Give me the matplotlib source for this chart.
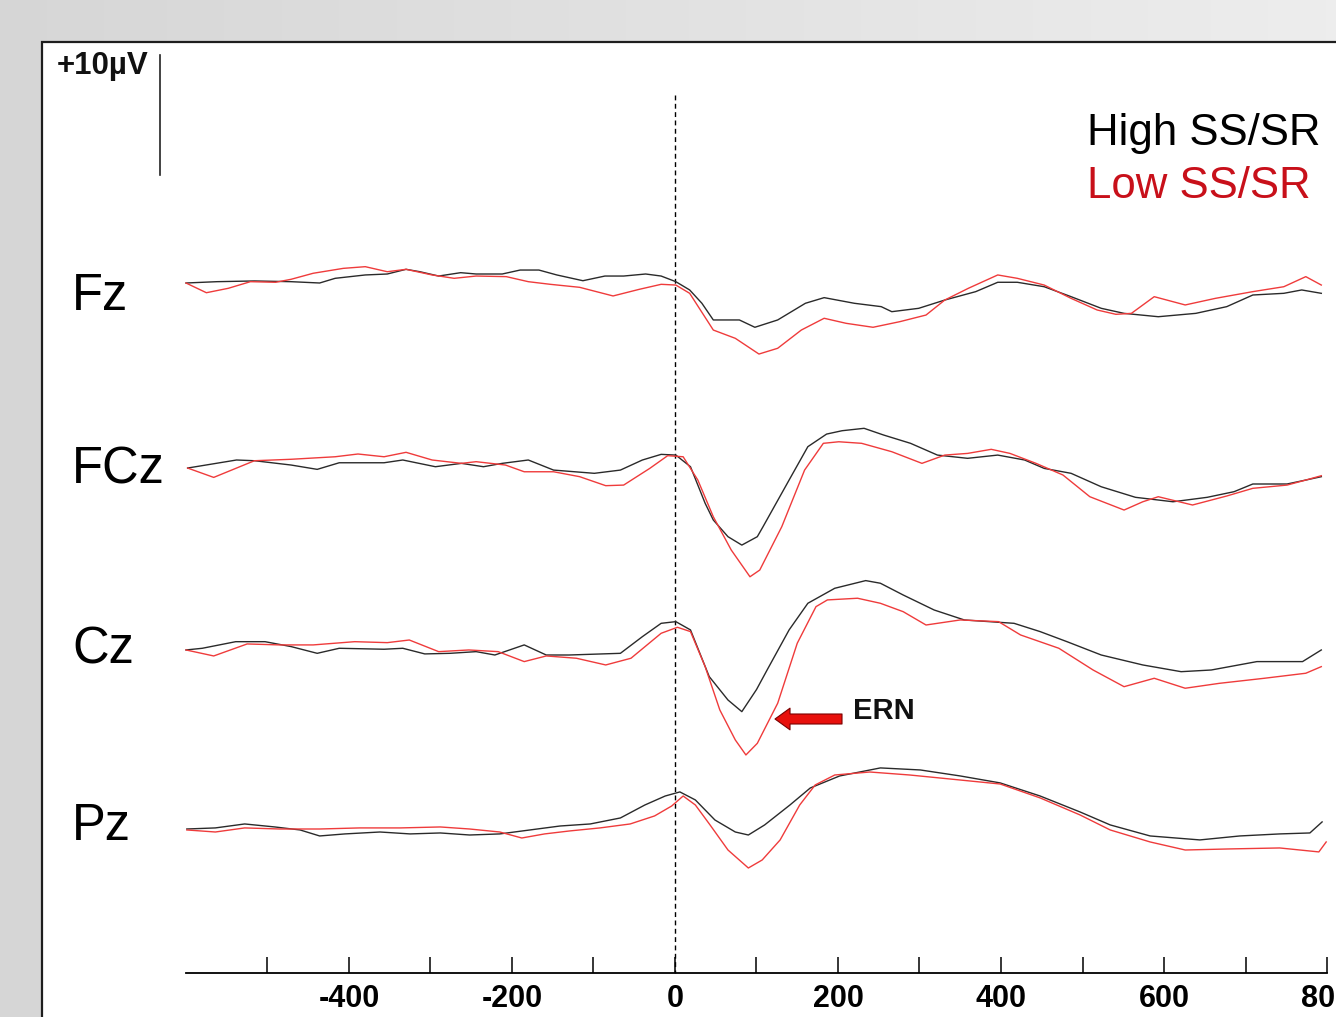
import numpy as np
import matplotlib
matplotlib.use("Agg")
import matplotlib.pyplot as plt
from matplotlib.patches import Rectangle

plt.rcParams['font.family'] = ['Liberation Sans', 'DejaVu Sans']

# ---------------- data (time in ms, amplitude in microvolts) ----------------
channels = ["Fz", "FCz", "Cz", "Pz"]
channel_offsets = [0.0, -15.42, -30.58, -45.58]   # vertical stacking (µV)

fz_high_t = [-600, -562, -516, -471, -436, -417, -380, -353, -330, -313, -290, -263, -244, -212, -190, -167, -145, -113, -86, -63, -36, -17, 1, 18, 33, 47, 79,
             98, 126, 160, 183, 220, 253, 266, 299, 331, 369, 396, 420, 453, 486, 523, 551, 593, 639, 677, 709, 747, 769, 793]
fz_high_v = [0.0, 0.11, 0.17, 0.11, 0.0, 0.39, 0.67, 0.75, 1.14, 0.94, 0.58, 0.86, 0.75, 0.75, 1.08, 1.08, 0.67, 0.19, 0.58, 0.58, 0.75, 0.58, 0.11, -0.58, -1.69, -3.08, -3.08,
             -3.69, -3.08, -1.69, -1.22, -1.69, -1.97, -2.39, -2.11, -1.42, -0.72, 0.06, 0.06, -0.31, -1.14, -2.11, -2.53, -2.81, -2.53, -1.97, -1.0, -0.86, -0.58, -0.86]

fz_low_t = [-600, -575, -548, -521, -490, -471, -444, -407, -380, -353, -330, -298, -271, -244, -207, -180, -153, -117, -76, -44, -17, 1, 18, 47, 74,
            103, 126, 155, 183, 210, 243, 276, 308, 331, 360, 396, 420, 453, 486, 518, 541, 560, 588, 626, 663, 709, 747, 774, 793]
fz_low_v = [0.0, -0.81, -0.44, 0.11, 0.06, 0.31, 0.81, 1.22, 1.36, 0.94, 1.14, 0.67, 0.39, 0.58, 0.53, 0.11, -0.11, -0.36, -1.08, -0.53, -0.11, -0.17, -0.86, -3.92, -4.61,
            -5.92, -5.44, -3.92, -2.94, -3.36, -3.69, -3.22, -2.67, -1.42, -0.44, 0.67, 0.39, -0.17, -1.28, -2.25, -2.61, -2.53, -1.14, -1.83, -1.28, -0.72, -0.31, 0.53, -0.17]

fcz_high_t = [-598, -538, -516, -471, -439, -412, -357, -334, -294, -262, -235, -212, -180, -149, -99, -67, -40, -17, 1, 19, 37, 47, 65, 82, 101,
              108, 140, 163, 186, 205, 232, 256, 289, 322, 359, 396, 429, 453, 486, 523, 565, 611, 653, 686, 709, 751, 774, 793]
fcz_high_v = [0.0, 0.67, 0.61, 0.25, -0.11, 0.44, 0.44, 0.67, 0.11, 0.39, 0.11, 0.39, 0.67, -0.17, -0.44, -0.17, 0.67, 1.14, 1.08, 0.11, -2.94, -4.33, -5.72, -6.42, -5.72,
              -4.89, -1.0, 1.78, 2.83, 3.11, 3.31, 2.75, 2.06, 1.08, 0.81, 1.08, 0.67, -0.03, -0.44, -1.56, -2.44, -2.81, -2.44, -1.97, -1.33, -1.33, -1.0, -0.72]

fcz_low_t = [-598, -566, -516, -471, -417, -389, -357, -330, -298, -262, -244, -208, -185, -149, -117, -85, -63, -31, -9, 10, 28, 47, 69, 92, 104,
             131, 159, 182, 201, 229, 266, 303, 331, 359, 388, 411, 443, 476, 509, 551, 574, 593, 635, 677, 709, 751, 774, 793]
fcz_low_v = [0.0, -0.78, 0.61, 0.73, 0.94, 1.17, 0.94, 1.31, 0.67, 0.39, 0.53, 0.25, -0.31, -0.31, -0.72, -1.47, -1.42, -0.03, 1.03, 0.94, -1.0, -4.06, -6.83, -9.06, -8.5,
             -4.89, -0.17, 2.06, 2.19, 2.06, 1.36, 0.39, 1.08, 1.22, 1.56, 1.22, 0.39, -0.58, -2.39, -3.5, -2.81, -2.39, -3.08, -2.33, -1.69, -1.42, -1.0, -0.64]

cz_high_t = [-600, -580, -539, -503, -471, -439, -412, -357, -334, -307, -276, -244, -221, -185, -158, -130, -67, -40, -17, 1, 19, 42, 65, 82, 100,
             113, 140, 163, 196, 234, 252, 280, 318, 355, 416, 448, 481, 523, 574, 621, 658, 714, 770, 793]
cz_high_v = [0.0, 0.14, 0.69, 0.69, 0.28, -0.28, 0.14, 0.06, 0.14, -0.33, -0.28, -0.14, -0.42, 0.42, -0.42, -0.42, -0.28, 1.11, 2.22, 2.36, 1.67, -2.22, -4.17, -5.14, -3.3,
             -1.67, 1.67, 3.89, 5.14, 5.78, 5.56, 4.58, 3.33, 2.5, 2.22, 1.53, 0.69, -0.42, -1.25, -1.81, -1.67, -0.97, -0.97, 0.0]

cz_low_t = [-600, -566, -525, -485, -444, -393, -353, -326, -290, -253, -217, -185, -158, -121, -85, -54, -17, 3, 19, 37, 55, 74, 87, 101,
            126, 150, 173, 187, 224, 252, 280, 308, 350, 397, 424, 471, 513, 551, 588, 626, 668, 723, 774, 793]
cz_low_v = [0.0, -0.5, 0.5, 0.42, 0.42, 0.69, 0.61, 0.83, -0.14, 0.0, -0.14, -0.97, -0.5, -0.69, -1.25, -0.69, 1.39, 1.89, 1.53, -1.39, -5.0, -7.5, -8.75, -7.78,
            -4.44, 0.56, 3.61, 4.17, 4.31, 3.89, 3.19, 2.08, 2.5, 2.36, 1.25, 0.14, -1.67, -3.06, -2.36, -3.19, -2.78, -2.36, -1.94, -1.39]

pz_high_t = [-599, -564, -528, -491, -460, -436, -405, -362, -325, -288, -252, -215, -178, -141, -104, -67, -37, -12, 6, 25, 49, 74, 90,
             110, 141, 166, 202, 252, 301, 350, 399, 448, 497, 534, 583, 644, 693, 742, 779, 794]
pz_high_v = [0.08, 0.17, 0.5, 0.25, 0.0, -0.5, -0.33, -0.17, -0.33, -0.25, -0.42, -0.33, 0.0, 0.33, 0.5, 1.0, 2.08, 2.83, 3.17, 2.5, 0.83, -0.17, -0.42,
             0.42, 2.08, 3.5, 4.5, 5.17, 5.0, 4.5, 3.92, 2.83, 1.5, 0.42, -0.5, -0.83, -0.5, -0.33, -0.25, 0.67]

pz_low_t = [-599, -564, -528, -485, -436, -387, -337, -288, -252, -215, -188, -160, -129, -92, -55, -25, -4, 10, 25, 43, 65, 90,
            107, 129, 153, 172, 196, 239, 288, 337, 399, 448, 497, 534, 583, 626, 681, 742, 790, 799]
pz_low_v = [0.0, -0.17, 0.17, 0.08, 0.08, 0.17, 0.17, 0.25, 0.08, -0.17, -0.67, -0.33, -0.08, 0.17, 0.5, 1.17, 2.0, 2.83, 2.08, 0.42, -1.67, -3.17,
            -2.5, -0.83, 2.08, 3.75, 4.58, 4.83, 4.58, 4.25, 3.83, 2.67, 1.25, 0.0, -1.0, -1.67, -1.58, -1.5, -1.83, -1.0]

high_series = [(fz_high_t, fz_high_v), (fcz_high_t, fcz_high_v), (cz_high_t, cz_high_v), (pz_high_t, pz_high_v)]
low_series = [(fz_low_t, fz_low_v), (fcz_low_t, fcz_low_v), (cz_low_t, cz_low_v), (pz_low_t, pz_low_v)]

major_ticks = [-400, -200, 0, 200, 400, 600, 800]
minor_ticks = [-500, -300, -100, 100, 300, 500, 700]
legend_labels = ["High SS/SR", "Low SS/SR"]
scale_uv = 10
scale_label = "+10µV"
ern_label = "ERN"

# ---------------- figure ----------------
W, H = 1336, 1017
fig = plt.figure(figsize=(W / 100, H / 100), dpi=100)

def fx(px):
    return px / W

def fy(py):
    return 1 - py / H

# background gradient
bg = fig.add_axes([0, 0, 1, 1])
grad = np.linspace(0.84, 0.93, 256)[None, :]
bg.imshow(np.dstack([grad, grad, grad]), aspect='auto', extent=[0, 1, 0, 1])
bg.set_xlim(0, 1)
bg.set_ylim(0, 1)
bg.axis('off')
bg.add_patch(Rectangle((fx(42), -0.05), 1.1, fy(42) + 0.05, transform=bg.transAxes,
                       facecolor='white', edgecolor='#1e1e1e', linewidth=1.6, clip_on=False))

# main axes covering the whole figure; time -> px: 675 + 0.815 * t; µV -> px: 283 - 12 * v
ax = fig.add_axes([0, 0, 1, 1], zorder=2)
ax.patch.set_visible(False)
ax.set_xlim((0 - 675) / 0.815, (W - 675) / 0.815)
ax.set_ylim((283 - H) / 12, 283 / 12)

black = '#2a2a2a'
red = '#ef3b3b'
for off, (t, v) in zip(channel_offsets, high_series):
    ax.plot(t, np.array(v) + off, color=black, lw=1.0, zorder=3)
for off, (t, v) in zip(channel_offsets, low_series):
    ax.plot(t, np.array(v) + off, color=red, lw=1.0, zorder=4)

# response onset dashed line
ax.plot([0, 0], [(283 - 95) / 12, (283 - 973) / 12], color='black', lw=1.0,
        linestyle=(0, (3.5, 2.5)), zorder=2)

# time axis
for s in ['left', 'right', 'top']:
    ax.spines[s].set_visible(False)
ax.spines['bottom'].set_position(('data', (283 - 973) / 12))
ax.spines['bottom'].set_bounds(-600, 800)
ax.spines['bottom'].set_linewidth(1.3)
ax.set_xticks(major_ticks)
ax.set_xticks(minor_ticks, minor=True)
ax.set_xticklabels([str(m) for m in major_ticks])
ax.tick_params(axis='x', which='both', direction='in', length=11.5, width=1.1, color='black')
ax.tick_params(axis='x', which='major', pad=8, labelsize=22)
for lab in ax.get_xticklabels():
    lab.set_fontweight('bold')
ax.set_yticks([])

# voltage scale bar
scale_top = (283 - 55) / 12
ax.plot([(160 - 675) / 0.815] * 2, [scale_top, scale_top - scale_uv], color='#222222', lw=1.2, clip_on=False)
fig.text(fx(57), fy(66), scale_label, fontsize=22.5, fontweight='bold', ha='left', va='center', color='#111111')

# channel labels
for name, py in zip(channels, [297, 470, 650, 826]):
    fig.text(fx(72), fy(py), name, fontsize=36.5, ha='left', va='center', color='black')

# legend
fig.text(fx(1087), fy(133), legend_labels[0], fontsize=31.5, ha='left', va='center', color='black')
fig.text(fx(1087), fy(186), legend_labels[1], fontsize=31.5, ha='left', va='center', color='#c8101a')

# ERN arrow
ern_y = (283 - 719) / 12
ax.annotate('', xy=((775 - 675) / 0.815, ern_y), xytext=((842 - 675) / 0.815, ern_y),
            arrowprops=dict(arrowstyle='simple,head_length=0.9,head_width=1.3,tail_width=0.6',
                            mutation_scale=12, facecolor='#e8100c', edgecolor='#7a0000', lw=0.8,
                            shrinkA=0, shrinkB=0), zorder=5)
fig.text(fx(853), fy(711), ern_label, fontsize=21, fontweight='bold', ha='left', va='center', color='#111111')

fig.savefig('out.png', dpi=100)
